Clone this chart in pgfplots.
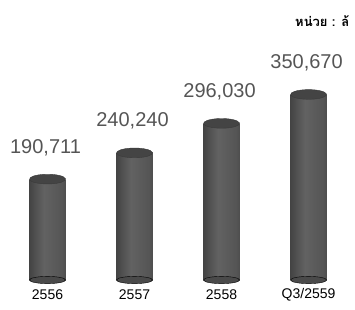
\documentclass[border=0pt]{standalone}
\usepackage{pgfplots}
\pgfplotsset{compat=1.18}
\usepackage{fontspec}
\setmainfont{Liberation Sans}
\newfontfamily\thaifont[Script=Thai]{Loma}
\definecolor{cA}{HTML}{2E2E2E}
\definecolor{cB}{HTML}{626262}
\definecolor{cC}{HTML}{555555}
\definecolor{cD}{HTML}{3A3A3A}
\definecolor{cE}{HTML}{4A4A4A}
\definecolor{topc}{HTML}{444444}
\definecolor{lbl}{HTML}{555555}
\pgfdeclarehorizontalshading{cyl}{100bp}{color(0bp)=(cA); color(10bp)=(cA); color(45bp)=(cB); color(70bp)=(cC); color(90bp)=(cD); color(100bp)=(cD)}
\pgfplotsset{cylbar/.style={ybar, bar width=36pt, draw=none, shading=cyl, forget plot}}
\begin{document}
\begin{tikzpicture}[x=1pt,y=1pt]
\useasboundingbox (0,0) rectangle (355,309);
\clip (0,0) rectangle (355,309);
\begin{axis}[
  at={(0pt,0pt)}, anchor=south west,
  scale only axis, width=355pt, height=309pt,
  axis lines=none,
  xmin=-0.546, xmax=3.534,
  ymin=-54810, ymax=529200,
  clip=false,
]
% bottom rounded part of cylinders
\addplot[only marks, mark=*, mark size=18pt,
  mark options={yscale=0.2, draw=none, fill=cE}]
  coordinates {(0,0) (1,0) (2,0) (3,0)};
% cylinder bodies
\addplot[cylbar] coordinates {(0,190711)};
\addplot[cylbar] coordinates {(1,240240)};
\addplot[cylbar] coordinates {(2,296030)};
\addplot[cylbar] coordinates {(3,350670)};
% tops
\addplot[only marks, mark=*, mark size=18pt,
  mark options={yscale=0.27, rotate=6, fill=topc, draw=cD, line width=0.4pt},
  nodes near coords, point meta=explicit symbolic,
  every node near coord/.append style={font=\fontsize{20}{20}\selectfont, text=lbl, anchor=south, yshift=20pt, xshift=-2pt}]
  coordinates {(0,190711) [190,711] (1,240240) [240,240] (2,296030) [296,030] (3,350670) [350,670]};
% category labels
\addplot[only marks, mark=none, nodes near coords, point meta=explicit symbolic,
  every node near coord/.append style={font=\fontsize{14}{14}\selectfont, text=black, anchor=center}]
  coordinates {(0,-27000) [2556] (1,-27000) [2557] (2,-27000) [2558] (3,-27000) [Q3/2559]};
\end{axis}
\node[anchor=north west, inner sep=0pt, font=\thaifont\bfseries\fontsize{13}{13}\selectfont] at (295,294) {หน่วย : ล้};
\end{tikzpicture}
\end{document}
